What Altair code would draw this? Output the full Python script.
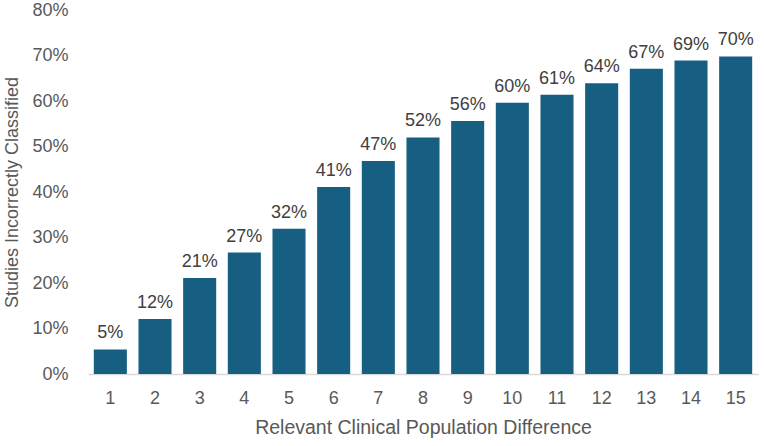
import altair as alt
import pandas as pd

categories = [str(i) for i in range(1, 16)]
values = [5.4, 12.1, 21.1, 26.7, 31.9, 41.1, 46.8, 52.0, 55.6, 59.6, 61.4, 63.9, 67.1, 68.9, 69.8]
labels = ["5%", "12%", "21%", "27%", "32%", "41%", "47%", "52%", "56%", "60%", "61%", "64%", "67%", "69%", "70%"]
y_ticks = [0, 0.1, 0.2, 0.3, 0.4, 0.5, 0.6, 0.7, 0.8]

df = pd.DataFrame({"cat": categories, "val": [v / 100 for v in values], "lab": labels})

FONT = "Liberation Sans"

base = alt.Chart(df).encode(
    x=alt.X("cat:N", sort=categories,
            scale=alt.Scale(paddingInner=0.26, paddingOuter=0.13),
            axis=alt.Axis(title="Relevant Clinical Population Difference", labelAngle=0,
                          labelFontSize=18, labelColor="#595959", labelFont=FONT,
                          titleFontSize=19.5, titleColor="#595959", titleFont=FONT, titleFontWeight="normal",
                          ticks=False, domainColor="#d9d9d9", domainWidth=1.3,
                          labelPadding=15, titlePadding=11)),
    y=alt.Y("val:Q", scale=alt.Scale(domain=[0, 0.8]),
            axis=alt.Axis(title="Studies Incorrectly Classified", format=".0%",
                          values=y_ticks, labelOverlap=False,
                          labelFontSize=18, labelColor="#595959", labelFont=FONT,
                          titleFontSize=18, titleColor="#595959", titleFont=FONT, titleFontWeight="normal",
                          ticks=False, domain=False, grid=False, labelPadding=20, titlePadding=10)),
)

bars = base.mark_bar(color="#175f82")
text = base.mark_text(dy=-16, fontSize=18, color="#404040", font=FONT).encode(text="lab:N")

chart = (bars + text).properties(
    width=670, height=364,
    autosize=alt.AutoSizeParams(type="none"),
    padding={"left": 88, "top": 10, "right": 6, "bottom": 72},
).configure_view(stroke=None)

chart.save("out.html", embed_options={"renderer": "svg", "actions": False})
